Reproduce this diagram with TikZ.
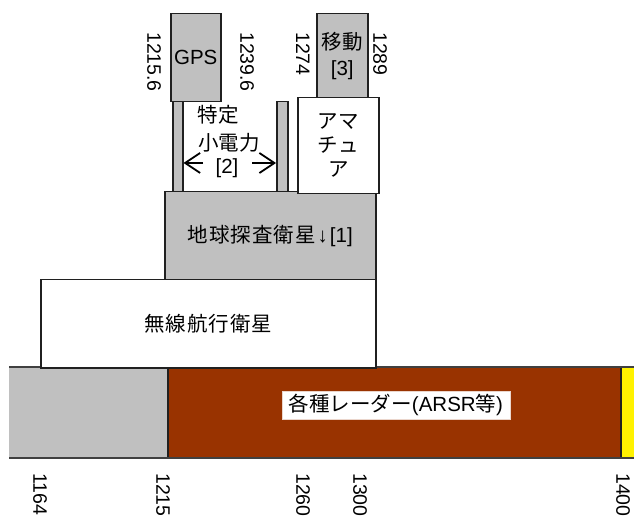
\documentclass[tikz,border=0pt]{standalone}
\usepackage{fontspec}
\setmainfont{Liberation Sans}
\newfontfamily\jp{Noto Sans CJK JP}
\usetikzlibrary{arrows.meta}
\definecolor{bandgray}{HTML}{C0C0C0}
\definecolor{radar}{HTML}{993300}
\definecolor{edge}{HTML}{202020}
\definecolor{bandline}{HTML}{404040}
\tikzset{
  box/.style={draw=edge, line width=1.5pt, anchor=north west, inner sep=0pt, align=center, font=\fontsize{20.5}{26}\selectfont},
  graybox/.style={box, fill=bandgray},
  whitebox/.style={box, fill=white},
  freq/.style={rotate=-90, anchor=west, inner sep=0pt, font=\fontsize{19.5}{22}\selectfont},
  lbl/.style={inner sep=0pt, font=\fontsize{20.5}{22}\selectfont},
  spanarrow/.style={line width=1.8pt, -{Straight Barb[length=15pt, width=20pt, line width=1.8pt]}}
}
\begin{document}
\begin{tikzpicture}[x=1pt,y=-1pt]
\useasboundingbox (0,0) rectangle (634,518);
% bottom band
\fill[bandgray] (9,367) rectangle (168,458);
\fill[radar] (168,367) rectangle (621,458);
\fill[yellow] (621,367) rectangle (634,458);
\draw[edge, line width=1.5pt] (168,367) -- (168,458) (621,367) -- (621,458);
\draw[bandline, line width=2pt] (9,367) -- (634,367) (9,458) -- (634,458);
\node[fill=white, draw=white!80!radar, line width=0.5pt, inner xsep=2pt, minimum width=228pt, minimum height=28pt, font=\fontsize{20.5}{22}\selectfont] (radarlbl) at (396,405) {{\jp 各種レーダー}(ARSR{\jp 等})};
% stacked boxes
\node[whitebox, minimum width=335pt, minimum height=88pt] (rns) at (40,279) {\jp 無\hspace{1pt}線\hspace{1pt}航\hspace{1pt}行\hspace{1pt}衛\hspace{1pt}星};
\node[graybox, minimum width=211pt, minimum height=88pt] (eess) at (164,191) {{\jp 地\hspace{1pt}球\hspace{1pt}探\hspace{1pt}査\hspace{1pt}衛\hspace{1pt}星}\hspace{2pt}↓\hspace{2pt}[1]};
\node[graybox, minimum width=10pt, minimum height=90pt] (barL) at (172,101) {};
\node[graybox, minimum width=11pt, minimum height=90pt] (barR) at (276,101) {};
\node[graybox, minimum width=50pt, minimum height=88pt] (gps) at (170,13) {GPS};
\node[graybox, minimum width=51pt, minimum height=84pt] (mobile) at (316,13) {{\jp 移動}\\{[3]}};
\node[whitebox, minimum width=81pt, minimum height=96pt, font=\jp\fontsize{20.5}{24}\selectfont] (ham) at (297,97) {アマ\\チュ\\ア};
% small power labels and arrows
\node[lbl] (tokutei) at (218,115) {\jp 特定};
\node[lbl] (shoden) at (229,143) {\jp 小電力};
\node[lbl] (two) at (227,168) {[2]};
\coordinate (aL) at (203,163);
\coordinate (aR) at (252,163);
\draw[spanarrow] (aL) -- (barL.east |- aL);
\draw[spanarrow] (aR) -- (barR.west |- aR);
% frequency labels (top)
\node[freq] (f12156) at (154,32) {1215.6};
\node[freq] (f12396) at (247,32) {1239.6};
\node[freq] (f1274) at (303,32) {1274};
\node[freq] (f1289) at (380,32) {1289};
% frequency labels (bottom)
\node[freq] (f1164) at (40,473) {1164};
\node[freq] (f1215) at (163,473) {1215};
\node[freq] (f1260) at (303,473) {1260};
\node[freq] (f1300) at (360,473) {1300};
\node[freq] (f1400) at (623,473) {1400};
\end{tikzpicture}
\end{document}
